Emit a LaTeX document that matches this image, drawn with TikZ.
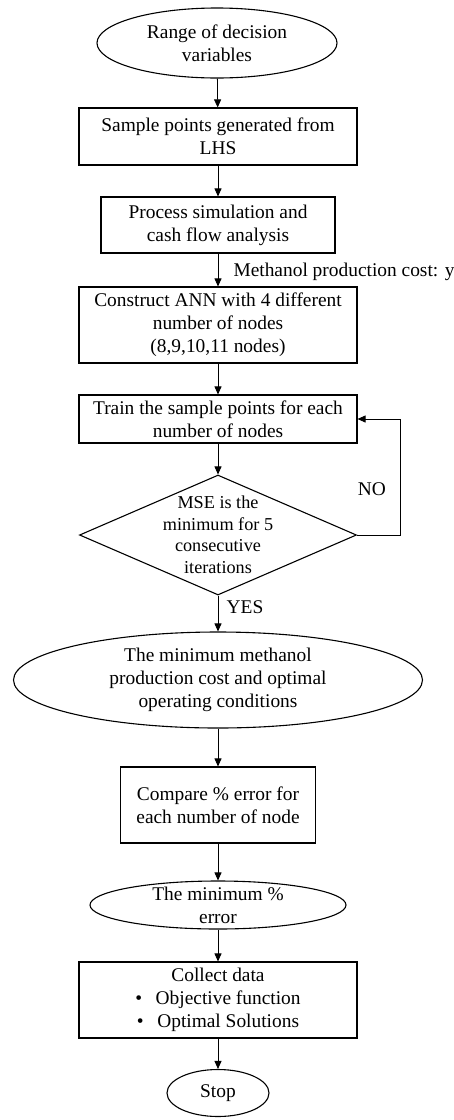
\documentclass[tikz,border=0pt]{standalone}
\usepackage{fontspec}
\setmainfont{Liberation Serif}
\usetikzlibrary{shapes.geometric,arrows.meta}
\tikzset{
	box/.style={draw, rectangle, line width=1.1pt, align=center, inner sep=0pt},
	oval/.style={draw, ellipse, line width=1.1pt, inner sep=0pt},
	decide/.style={draw, diamond, line width=1.1pt, inner sep=0pt},
	flow/.style={-{Triangle[length=8pt,width=7pt]}, line width=0.8pt},
	txt/.style={align=center}
}
\begin{document}
\begin{tikzpicture}[x=1pt,y=-1pt,font=\fontsize{19.4}{23.2}\selectfont]
		\useasboundingbox (0,0) rectangle (453,1120);
		% shapes of the flow chart
		\node[oval, minimum width=240pt, minimum height=70pt, label={[txt]center:Range of decision\\variables}] (range) at (217,43) {};
		\node[box, minimum width=278pt, minimum height=57pt] (sample) at (218,136.5) {Sample points generated from\\LHS};
		\node[box, minimum width=234pt, minimum height=56pt] (process) at (218,225) {Process simulation and\\cash flow analysis};
		\node[box, minimum width=278pt, minimum height=76pt] (ann) at (218,325) {Construct ANN with 4 different\\number of nodes\\(8,9,10,11 nodes)};
		\node[box, minimum width=278pt, minimum height=48pt] (train) at (218,419) {Train the sample points for each\\number of nodes};
		\node[decide, minimum width=277pt, minimum height=120pt, label={[txt, font=\fontsize{18.2}{21.5}\selectfont]center:MSE is the\\minimum for 5\\consecutive\\iterations}] (mse) at (218,535) {};
		\node[oval, minimum width=409pt, minimum height=96pt, label={[txt]center:The minimum methanol\\production cost and optimal\\operating conditions}] (best) at (218,680) {};
		\node[box, minimum width=195pt, minimum height=76pt] (compare) at (218,805) {Compare \% error for\\each number of node};
		\node[oval, minimum width=256pt, minimum height=48pt, label={[txt]center:The minimum \%\\error}] (minerr) at (218,905) {};
		\node[box, minimum width=278pt, minimum height=76pt] (collect) at (218,1000) {Collect data\\\textbullet\hspace{0.7em}Objective function\\\textbullet\hspace{0.7em}Optimal Solutions};
		\node[oval, minimum width=102pt, minimum height=47pt, label={center:Stop}] (stop) at (218,1093) {};
		% labels
		\node[anchor=west] (cost) at (230,272) {Methanol production cost: y};
		\node (no) at (372,489) {NO};
		\node (yes) at (245,607) {YES};
		% connectors
		\draw[flow] (range) -- (sample);
		\draw[flow] (sample) -- (process);
		\draw[flow] (process) -- (ann);
		\draw[flow] (ann) -- (train);
		\draw[flow] (train) -- (mse);
		\draw[flow] (mse.east) -- ++(43,0) |- (train.east);
		\draw[flow] (mse) -- (best);
		\draw[flow] (best) -- (compare);
		\draw[flow] (compare) -- (minerr);
		\draw[flow] (minerr) -- (collect);
		\draw[flow] (collect) -- (stop);
	\end{tikzpicture}
\end{document}
